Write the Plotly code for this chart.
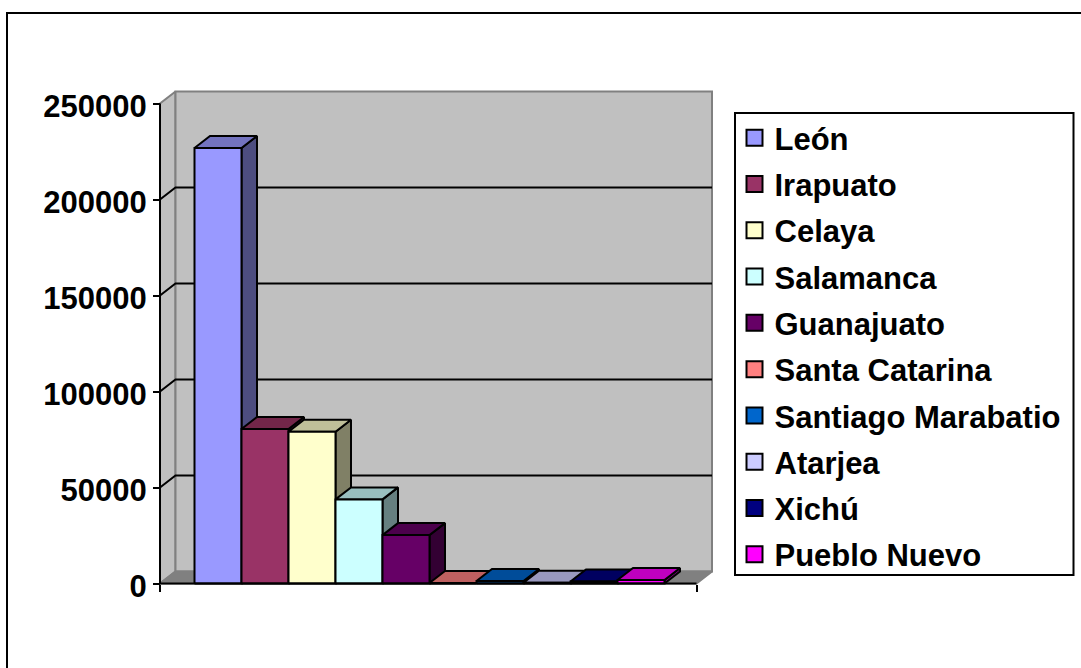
import plotly.graph_objects as go

# --- data ---
municipios = ["León", "Irapuato", "Celaya", "Salamanca", "Guanajuato", "Santa Catarina",
              "Santiago Marabatio", "Atarjea", "Xichú", "Pueblo Nuevo"]
poblacion = [226800, 80500, 79000, 43800, 25200, 300, 1300, 400, 1000, 1800]
front_colors = ["#9999FF", "#993366", "#FFFFCC", "#CCFFFF", "#660066",
                "#FF8080", "#0066CC", "#CCCCFF", "#000080", "#FF00FF"]
top_colors = ["#7373BF", "#732649", "#BFBF99", "#99BFBF", "#4C004C",
              "#BF6060", "#004C99", "#9999BF", "#000060", "#BF00BF"]
side_colors = ["#4D4D80", "#4D1A33", "#808066", "#668080", "#330033",
               "#804040", "#003366", "#666680", "#000040", "#800080"]
y_ticks = [0, 50000, 100000, 150000, 200000, 250000]

W, H = 1081, 668
X0_PX, BAR_PX = 194.5, 47.0          # pixel of first bar's left edge, width of a bar
Y0_PX, PX_PER_UNIT = 583.5, 96.0 / 50000
DX = 15.5 / BAR_PX                   # depth offset, axis units
DY = 12.0 / PX_PER_UNIT
XL, XR = (160 - X0_PX) / BAR_PX, (696.5 - X0_PX) / BAR_PX
YMAX = y_ticks[-1]
LABEL_DROP_PX = 3

fig = go.Figure()

def poly(xs, ys, fill, line="#000000", lw=2, name=None):
    fig.add_trace(go.Scatter(x=xs, y=ys, mode="lines", fill="toself", fillcolor=fill,
                             line=dict(color=line, width=lw), showlegend=False,
                             hoverinfo="skip", name=name))

def seg(xs, ys, color="#000000", lw=2):
    fig.add_trace(go.Scatter(x=xs, y=ys, mode="lines", line=dict(color=color, width=lw),
                             showlegend=False, hoverinfo="skip"))

# walls and floor
poly([XL, XL + DX, XL + DX, XL, XL], [0, DY, YMAX + DY, YMAX, 0], "#C0C0C0", "#808080")
poly([XL + DX, XR + DX, XR + DX, XL + DX, XL + DX], [DY, DY, YMAX + DY, YMAX + DY, DY], "#C0C0C0", "#808080")
poly([XL, XR, XR + DX, XL + DX, XL], [0, 0, DY, DY, 0], "#808080", "#808080")

# gridlines
for t in y_ticks[1:-1]:
    seg([XL, XL + DX, XR + DX], [t, t + DY, t + DY], "#000000", 2)

# bars
for i, (name, v) in enumerate(zip(municipios, poblacion)):
    l, r = i, i + 1
    poly([r, r + DX, r + DX, r, r], [0, DY, v + DY, v, 0], side_colors[i])
    poly([l, r, r + DX, l + DX, l], [v, v, v + DY, v + DY, v], top_colors[i])
    poly([l, r, r, l, l], [0, 0, v, v, 0], front_colors[i], name=name)

# axis lines
seg([XL, XR], [0, 0], "#000000", 2)
seg([XL, XL], [0, YMAX], "#000000", 2)

# legend entries
for i, name in enumerate(municipios):
    fig.add_trace(go.Scatter(x=[None], y=[None], mode="markers", name=name, legendgroup=name,
                             marker=dict(symbol="square", size=16, color=front_colors[i],
                                         line=dict(color="#000000", width=2))))

# empty trace that keeps the label axis alive
fig.add_trace(go.Scatter(x=[None], y=[None], yaxis="y2", showlegend=False, hoverinfo="skip"))

font = dict(family="Liberation Sans", size=31, color="#000000", weight="bold")
fig.update_layout(
    width=W, height=H, margin=dict(l=0, r=0, t=0, b=0),
    paper_bgcolor="#FFFFFF", plot_bgcolor="#FFFFFF",
    xaxis=dict(domain=[0, 1], range=[-X0_PX / BAR_PX, (W - X0_PX) / BAR_PX],
               anchor="free", position=(H - Y0_PX) / H, side="bottom",
               tickmode="array", tickvals=[XL, XR], ticktext=["", ""],
               ticks="outside", ticklen=7, tickwidth=2, tickcolor="#000000",
               showgrid=False, zeroline=False, showline=False),
    yaxis=dict(domain=[0, 1], range=[-(H - Y0_PX) / PX_PER_UNIT, Y0_PX / PX_PER_UNIT],
               anchor="free", position=160 / W, side="left",
               tickmode="array", tickvals=y_ticks, showticklabels=False,
               ticks="outside", ticklen=7, tickwidth=2, tickcolor="#000000",
               showgrid=False, zeroline=False, showline=False),
    yaxis2=dict(domain=[0, 1], overlaying="y",
                range=[-(H - Y0_PX - LABEL_DROP_PX) / PX_PER_UNIT, (Y0_PX + LABEL_DROP_PX) / PX_PER_UNIT],
                anchor="free", position=160 / W, side="left",
                tickmode="array", tickvals=y_ticks, ticktext=[str(t) for t in y_ticks],
                ticks="outside", ticklen=7, tickwidth=2, tickcolor="rgba(0,0,0,0)",
                tickfont=font, ticklabelstandoff=0,
                showgrid=False, zeroline=False, showline=False),
    legend=dict(x=734.5 / W, y=1 - 111 / H, xanchor="left", yanchor="top",
                borderwidth=0, bgcolor="rgba(0,0,0,0)",
                font=font, tracegroupgap=3, entrywidth=296, entrywidthmode="pixels",
                itemsizing="trace", itemclick=False, itemdoubleclick=False),
    showlegend=True,
    shapes=[dict(type="rect", xref="paper", yref="paper",
                 x0=7 / W, x1=1.01, y0=-0.01, y1=1 - 13 / H,
                 line=dict(color="#000000", width=2), layer="below"),
            dict(type="rect", xref="paper", yref="paper",
                 x0=735 / W, x1=1073.5 / W, y0=1 - 575 / H, y1=1 - 113 / H,
                 line=dict(color="#000000", width=2), layer="below")],
)
fig.write_html("out.html", post_script="document.body.style.margin='0';",
               config={"displayModeBar": False})
